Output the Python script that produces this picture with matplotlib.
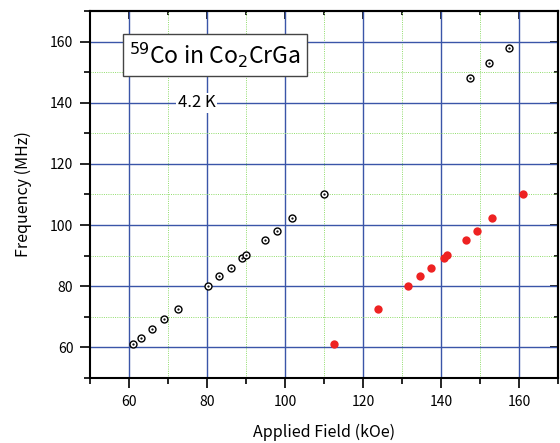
import matplotlib.pyplot as plt
from matplotlib.ticker import MultipleLocator

plt.rcParams['font.family'] = ['Noto Sans CJK JP', 'DejaVu Sans']

# Data
field_open = [61.1, 63.1, 66.0, 69.1, 72.5, 80.2, 83.2, 86.1, 88.9, 90.0, 95.0, 98.0,
              101.8, 109.9, 147.4, 152.3, 157.4]
freq_open = [61.1, 63.2, 66.1, 69.2, 72.7, 80.1, 83.2, 86.1, 89.2, 90.2, 95.2, 98.1,
             102.2, 110.2, 148.0, 153.0, 158.0]
field_filled = [112.6, 123.9, 131.6, 134.6, 137.4, 140.7, 141.5, 146.3, 149.2, 153.2, 161.1]
freq_filled = [61.1, 72.7, 80.1, 83.2, 86.1, 89.2, 90.2, 95.2, 98.1, 102.2, 110.2]

fig = plt.figure(figsize=(5.6, 4.43), dpi=100)
ax = fig.add_axes([0.1607, 0.1467, 0.8357, 0.8285])

ax.set_xlim(50, 170)
ax.set_ylim(50, 170)
ax.xaxis.set_major_locator(MultipleLocator(20))
ax.xaxis.set_minor_locator(MultipleLocator(10))
ax.yaxis.set_major_locator(MultipleLocator(20))
ax.yaxis.set_minor_locator(MultipleLocator(10))

# grid
ax.grid(True, which='major', color='#3a55a8', linewidth=1.0, linestyle='-')
ax.grid(True, which='minor', color='#8fdc6a', linewidth=0.7, linestyle=(0, (1, 1.3)))
ax.set_axisbelow(True)

# points
ax.plot(field_open, freq_open, 'o', markersize=5, markerfacecolor='white',
        markeredgecolor='black', markeredgewidth=1.0, zorder=3)
ax.plot(field_open, freq_open, '.', markersize=1.2, color='black', zorder=4)
ax.plot(field_filled, freq_filled, 'o', markersize=6, color='#ee2222',
        markeredgewidth=0, zorder=3)

# ticks
ax.tick_params(which='both', labelsize=10, colors='black', width=1.2)
ax.tick_params(which='major', length=7, direction='out', pad=5)
ax.tick_params(which='minor', length=4, direction='out')
for side in ['left', 'bottom', 'right', 'top']:
    ax.spines[side].set_linewidth(1.5)

axr = ax.secondary_yaxis('right')
axr.yaxis.set_major_locator(MultipleLocator(20))
axr.yaxis.set_minor_locator(MultipleLocator(10))
axr.tick_params(which='major', direction='in', length=6, width=1.2, labelright=False)
axr.tick_params(which='minor', direction='in', length=3, width=1.2)
axr.spines['right'].set_linewidth(1.5)

axt = ax.secondary_xaxis('top')
axt.xaxis.set_major_locator(MultipleLocator(20))
axt.xaxis.set_minor_locator(MultipleLocator(10))
axt.tick_params(which='major', direction='in', length=6, width=1.2, labeltop=False)
axt.tick_params(which='minor', direction='in', length=3, width=1.2)
axt.spines['top'].set_linewidth(1.5)

ax.set_xlabel('Applied Field (kOe)', fontsize=11.5, labelpad=11)
ax.set_ylabel('Frequency (MHz)', fontsize=11.5, labelpad=13)

# annotations
ax.text(60.0, 155.6, r'$^{59}$Co in Co$_2$CrGa', fontsize=16.5,
        ha='left', va='center', math_fontfamily='dejavusans',
        bbox=dict(boxstyle='square,pad=0.28', facecolor='white',
                  edgecolor='#444444', linewidth=1.0), zorder=5)
ax.text(77.3, 140, '4.2 K', fontsize=12, ha='center', va='center',
        bbox=dict(boxstyle='square,pad=0.1', facecolor='white',
                  edgecolor='none'), zorder=5)

plt.savefig('out.png', dpi=100)
